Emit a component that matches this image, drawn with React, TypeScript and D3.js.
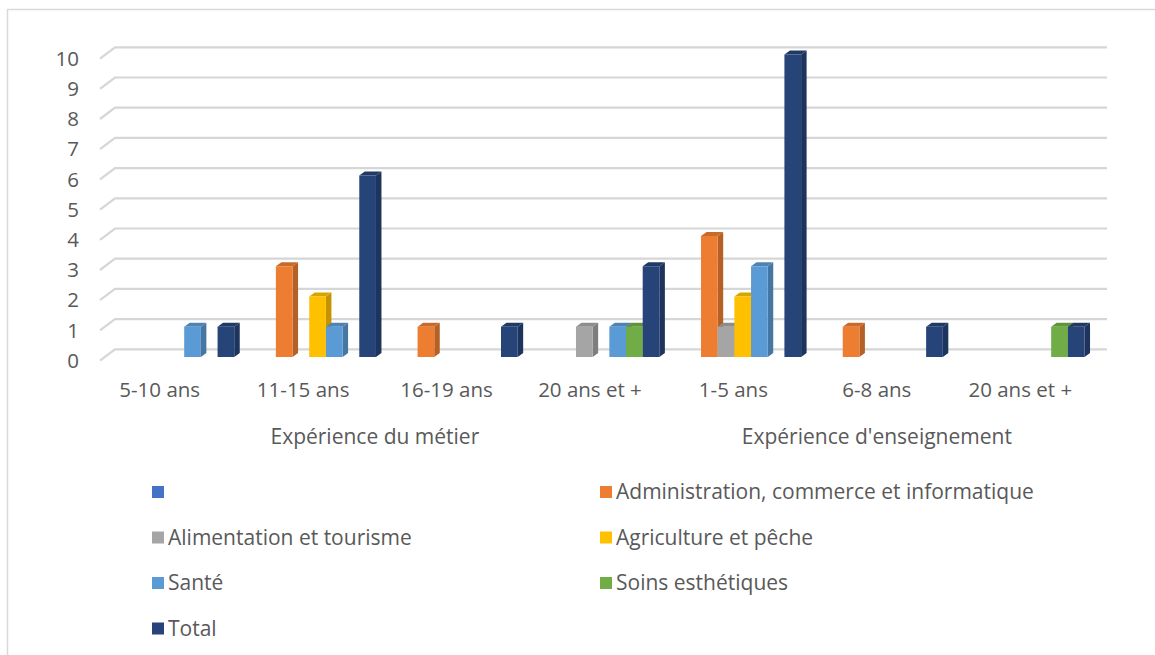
import React from "react";
import * as d3 from "d3";

const categories = ["5-10 ans", "11-15 ans", "16-19 ans", "20 ans et +", "1-5 ans", "6-8 ans", "20 ans et + "];
const categoryLabels = ["5-10 ans", "11-15 ans", "16-19 ans", "20 ans et +", "1-5 ans", "6-8 ans", "20 ans et +"];
const groups = [
  { name: "Expérience du métier", from: 0, to: 3 },
  { name: "Expérience d'enseignement", from: 4, to: 6 },
];
const seriesNames = ["", "Administration, commerce et informatique", "Alimentation et tourisme", "Agriculture et pêche", "Santé", "Soins esthétiques", "Total"];
const seriesColors = ["#4472C4", "#ED7D31", "#A5A5A5", "#FFC000", "#5B9BD5", "#70AD47", "#264478"];
const blankValues = [0, 0, 0, 0, 0, 0, 0];
const adminValues = [0, 3, 1, 0, 4, 1, 0];
const alimValues = [0, 0, 0, 1, 1, 0, 0];
const agriValues = [0, 2, 0, 0, 2, 0, 0];
const santeValues = [1, 1, 0, 1, 3, 0, 0];
const soinsValues = [0, 0, 0, 1, 0, 0, 1];
const totalValues = [1, 6, 1, 3, 10, 1, 1];
const seriesValues = [blankValues, adminValues, alimValues, agriValues, santeValues, soinsValues, totalValues];
const yTicks = [0, 1, 2, 3, 4, 5, 6, 7, 8, 9, 10];

const FONT = "'Open Sans', 'Noto Sans', sans-serif";
const TXT = "#595959";
const FS = 20.5;
const FS_LEG = 21;

export default function App() {
  // back wall
  const yBack = d3.scaleLinear().domain([0, 10]).range([349.3, 47.3]);
  const depthX = 15, depthY = 11.3;
  const wallLeft = 115, wallRight = 1107;
  // bars (slightly in front of back wall)
  const yBar = d3.scaleLinear().domain([0, 10]).range([357, 54.5]);
  const x0 = d3.scaleBand<string>().domain(categories).range([105, 1097]).padding(0);
  const gap = x0.step() * 0.088;
  const x1 = d3.scaleBand<number>().domain(d3.range(seriesNames.length)).range([gap, x0.step() - gap]).padding(0);
  const bw = x1.bandwidth();
  const dx = 5.5, dy = 4;
  // category labels along the front edge
  const xLabel = d3.scaleBand<string>().domain(categories).range([88, 1092]).padding(0);

  const bars: JSX.Element[] = [];
  categories.forEach((c, ci) => {
    seriesValues.forEach((vals, si) => {
      const v = vals[ci];
      if (!v) return;
      const x = (x0(c) as number) + (x1(si) as number);
      const top = yBar(v);
      const base = yBar(0);
      const col = seriesColors[si];
      const side = d3.color(col)!.darker(0.75).formatHex();
      const topc = d3.color(col)!.darker(0.45).formatHex();
      bars.push(
        <g key={`${ci}-${si}`}>
          <polygon points={`${x + bw},${top} ${x + bw + dx},${top - dy} ${x + bw + dx},${base - dy} ${x + bw},${base}`} fill={side} />
          <polygon points={`${x},${top} ${x + dx},${top - dy} ${x + bw + dx},${top - dy} ${x + bw},${top}`} fill={topc} />
          <rect x={x} y={top} width={bw} height={base - top} fill={col} />
        </g>
      );
    });
  });

  const legendRows = [492, 537.5, 583, 628.5];
  const legendCols = [152, 600];
  const lc = (c: string) => (xLabel(c) as number) + xLabel.bandwidth() / 2;

  return (
    <svg width={1155} height={655} style={{ position: "absolute", left: 0, top: 0 }} fontFamily={FONT}>
      <rect x={0} y={0} width={1155} height={655} fill="#fff" />
      <rect x={7.5} y={9.5} width={1170} height={680} fill="none" stroke="#d9d9d9" strokeWidth={1.5} />
      {yTicks.map((t) => (
        <g key={t}>
          <polyline
            points={`${wallLeft - depthX},${yBack(t) + depthY} ${wallLeft},${yBack(t)} ${wallRight},${yBack(t)}`}
            fill="none"
            stroke="#d6d6d6"
            strokeWidth={2.2}
          />
          <text x={79} y={yBack(t) + depthY} dy="0.35em" textAnchor="end" fontSize={FS} fill={TXT}>
            {t}
          </text>
        </g>
      ))}
      {bars}
      {categories.map((c, ci) => (
        <text key={c} x={lc(c)} y={390} dy="0.35em" textAnchor="middle" fontSize={FS} fill={TXT}>
          {categoryLabels[ci]}
        </text>
      ))}
      {groups.map((g) => {
        const a = lc(categories[g.from]);
        const b = lc(categories[g.to]);
        return (
          <text key={g.name} x={(a + b) / 2} y={437} dy="0.35em" textAnchor="middle" fontSize={FS_LEG} fill={TXT}>
            {g.name}
          </text>
        );
      })}
      {seriesNames.map((n, i) => {
        const col = i % 2;
        const row = Math.floor(i / 2);
        const lx = legendCols[col];
        const ly = legendRows[row];
        return (
          <g key={i}>
            <rect x={lx} y={ly - 6} width={12} height={12} fill={seriesColors[i]} />
            <text x={lx + 16} y={ly} dy="0.35em" fontSize={FS_LEG} fill={TXT}>
              {n}
            </text>
          </g>
        );
      })}
    </svg>
  );
}
